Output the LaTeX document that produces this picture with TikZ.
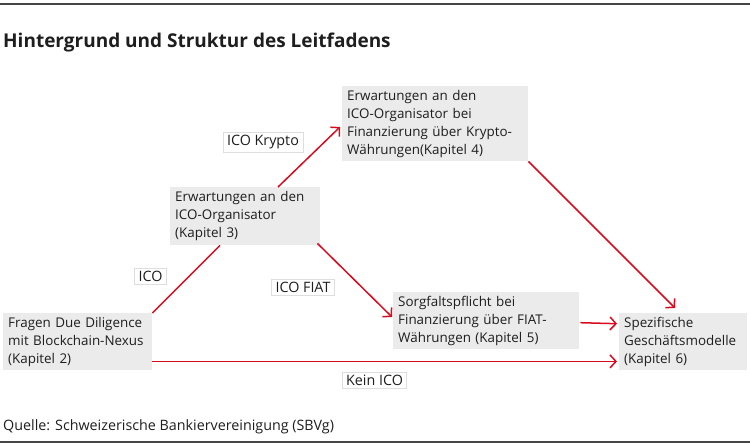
\documentclass[tikz,border=0pt]{standalone}
\usepackage{fontspec}
\setmainfont{Open Sans}
\usetikzlibrary{arrows.meta,calc}
\definecolor{boxgray}{RGB}{235,235,235}
\definecolor{arrred}{RGB}{218,10,30}
\definecolor{txt}{RGB}{30,30,30}
\definecolor{lblborder}{RGB}{222,222,222}
\definecolor{rulegray}{RGB}{70,70,70}
\tikzset{
  stepbox/.style={fill=boxgray, draw=none, anchor=north west, inner xsep=5pt, inner ysep=1pt,
    align=left, text=txt, font=\fontsize{13.4}{18}\selectfont},
  lbl/.style={fill=white, draw=lblborder, line width=0.8pt, inner xsep=4pt, inner ysep=3pt,
    text=txt, font=\fontsize{14.3}{16}\selectfont},
  conn/.style={draw=arrred, line width=1.5pt},
  arr/.style={conn, -{Straight Barb[length=6pt,width=13pt,line width=1.5pt]}}
}
\begin{document}
\begin{tikzpicture}[x=1pt,y=-1pt]
\useasboundingbox (0,0) rectangle (750,447);
\draw[rulegray, line width=1.3pt] (0,4) coordinate (tl) -- (750,4) coordinate (tr);
\draw[rulegray, line width=1.3pt] (0,442) coordinate (bl) -- (750,442) coordinate (br);
\node[anchor=base west, inner sep=0pt, text=txt, font=\fontsize{19}{24}\selectfont\bfseries] (title) at (3,47) {Hintergrund und Struktur des Leitfadens};
\node[anchor=base west, inner sep=0pt, text=txt, font=\fontsize{14.3}{16}\selectfont] (src) at (3,430) {Quelle: Schweizerische Bankiervereinigung (SBVg)};

\node[stepbox, minimum width=186pt, text width=176pt, minimum height=75pt] (b4) at (342,86)
  {Erwartungen an den\\ICO-Organisator bei\\Finanzierung über Krypto-\\Währungen(Kapitel 4)};
\node[stepbox, minimum width=150pt, text width=140pt, minimum height=58pt] (b3) at (170,187)
  {Erwartungen an den\\ICO-Organisator\\(Kapitel 3)};
\node[stepbox, minimum width=149pt, text width=139pt, minimum height=57pt] (b2) at (3,313)
  {Fragen Due Diligence\\mit Blockchain-Nexus\\(Kapitel 2)};
\node[stepbox, minimum width=186pt, text width=176pt, minimum height=57pt] (b5) at (393,292)
  {Sorgfaltspflicht bei\\Finanzierung über FIAT-\\Währungen (Kapitel 5)};
\node[stepbox, minimum width=128pt, text width=118pt, minimum height=57pt] (b6) at (619,313)
  {Spezifische\\Geschäftsmodelle\\(Kapitel 6)};

\draw[conn] (b2.north east) -- ($(b3.south west)+(50,0)$);
\draw[arr] ($(b3.north west)+(108,0)$) -- ($(b4.north west)+(-2,41)$);
\draw[arr] ($(b3.south east)+(-3,-2)$) -- ($(b5.north west)+(-1,25)$);
\draw[arr] (b4.south east) -- ($(b6.north west)+(56,-5)$);
\draw[arr] ($(b5.east)+(1,2)$) -- ($(b6.west)+(-2,-18)$);
\draw[arr] ($(b2.south east)+(0,-9)$) -- ($(b6.south west)+(-2,-9)$);

\node[lbl] (l1) at (263,142.5) {ICO Krypto};
\node[lbl] (l2) at (150.5,276.5) {ICO};
\node[lbl] (l3) at (303,287.5) {ICO FIAT};
\node[lbl] (l4) at (374.5,380.5) {Kein ICO};
\end{tikzpicture}
\end{document}
